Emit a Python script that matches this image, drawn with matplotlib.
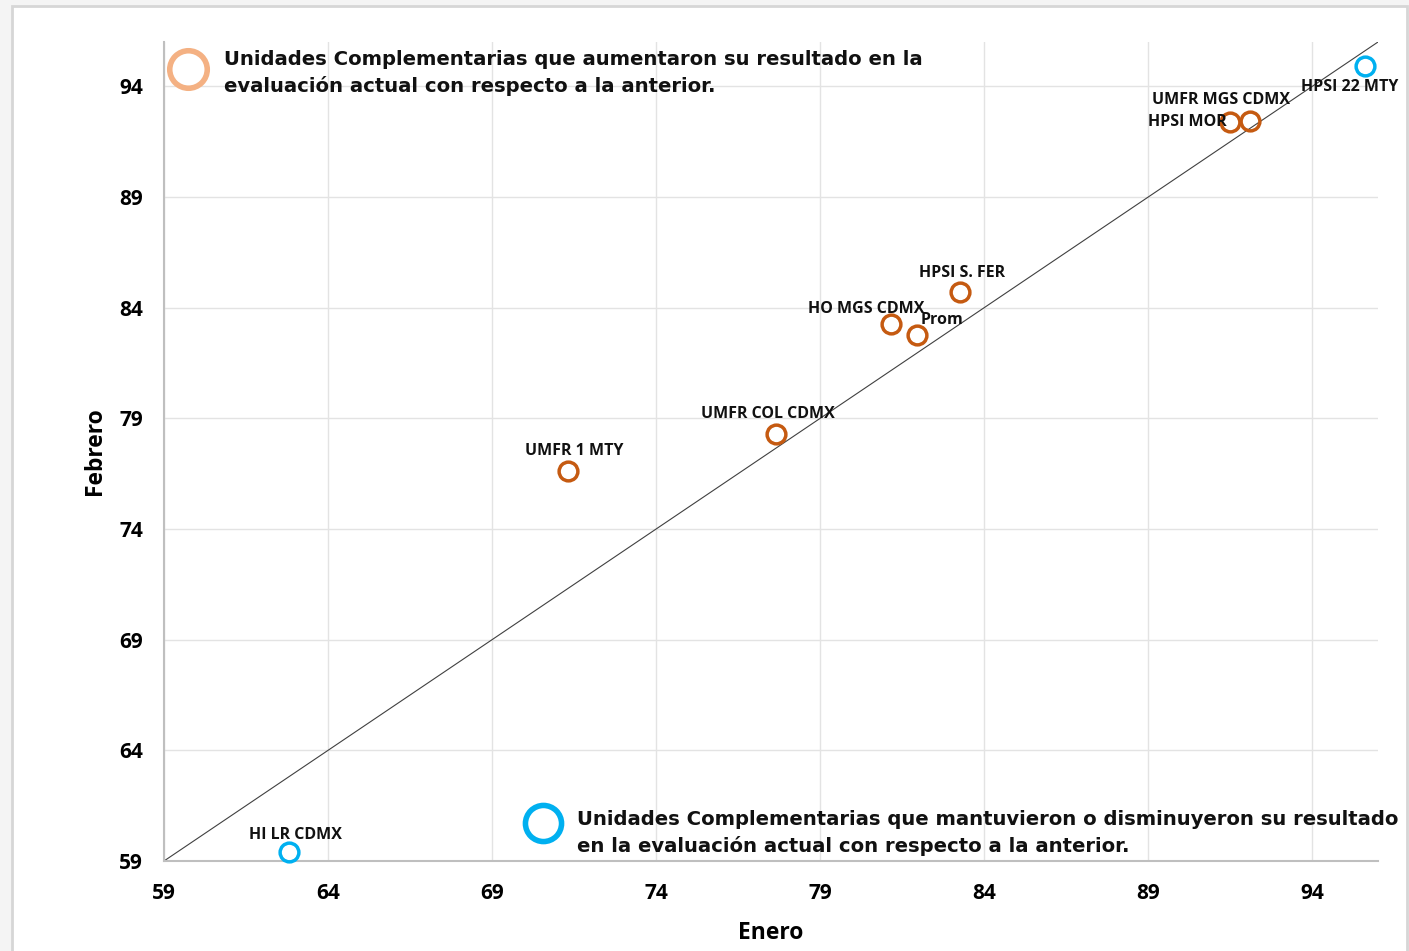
import matplotlib
matplotlib.use("Agg")
import matplotlib.pyplot as plt
from matplotlib.patches import Rectangle

# Data
names = ["HPSI 22 MTY", "UMFR MGS CDMX", "HPSI MOR", "HPSI S. FER", "HO MGS CDMX",
         "Prom", "UMFR COL CDMX", "UMFR 1 MTY", "HI LR CDMX"]
enero = [95.6, 92.1, 91.5, 83.25, 81.15, 81.95, 77.65, 71.3, 62.8]
febrero = [94.9, 92.45, 92.4, 84.7, 83.25, 82.75, 78.3, 76.6, 59.4]
aumento = [False, True, True, True, True, True, True, True, False]
label_offsets = [(-15, -21), (-29, 21), (-4, 0), (2, 19), (-25, 15),
                 (25, 15), (-8, 20), (7, 20), (7, 17)]
label_ha = ["center", "center", "right", "center", "center",
            "center", "center", "center", "center"]
ticks = [59, 64, 69, 74, 79, 84, 89, 94]

ORANGE = "#C55A11"
BLUE = "#00B0F0"
LIGHT_ORANGE = "#F4B183"
LABEL_FONT = "Open Sans"

W, H = 1409, 951
fig = plt.figure(figsize=(W / 100, H / 100), dpi=100)
fig.patch.set_facecolor("#F4F4F4")
fig.add_artist(Rectangle((12 / W, -0.01), (1407 - 12) / W, (H - 6) / H + 0.01,
                         transform=fig.transFigure, facecolor="white",
                         edgecolor="#D6D6D6", linewidth=2, zorder=0))

ax = fig.add_axes([164 / W, 1 - 861 / H, (1378 - 164) / W, (861 - 42) / H])
ax.set_facecolor("white")
ax.set_xlim(59, 96)
ax.set_ylim(59, 96)
ax.set_xticks(ticks)
ax.set_yticks(ticks)
ax.grid(True, color="#E3E3E3", linewidth=1)
ax.set_axisbelow(True)
for s in ["top", "right"]:
    ax.spines[s].set_visible(False)
for s in ["left", "bottom"]:
    ax.spines[s].set_color("#BFBFBF")
    ax.spines[s].set_linewidth(1.5)
ax.tick_params(axis="x", length=0, pad=16)
ax.tick_params(axis="y", length=0, pad=15)
for lab in ax.get_xticklabels() + ax.get_yticklabels():
    lab.set_fontfamily(LABEL_FONT)
    lab.set_fontweight("bold")
    lab.set_fontsize(15)

ax.set_xlabel("Enero", fontfamily=LABEL_FONT, fontweight="bold", fontsize=16.5, labelpad=12)
ax.set_ylabel("Febrero", fontfamily=LABEL_FONT, fontweight="bold", fontsize=16.5, labelpad=9)

# diagonal
ax.plot([59, 96], [59, 96], color="#404040", linewidth=0.8, zorder=2)

for n, x, y, up, off, ha in zip(names, enero, febrero, aumento, label_offsets, label_ha):
    c = ORANGE if up else BLUE
    ax.plot([x], [y], marker="o", markersize=13.5, markerfacecolor="none",
            markeredgecolor=c, markeredgewidth=2.5, clip_on=False, zorder=3)
    ax.annotate(n, (x, y), xytext=off, textcoords="offset pixels",
                ha=ha, va="center", fontfamily=LABEL_FONT, fontweight="bold",
                fontsize=11.5, color="#111111", zorder=4)

# legend-like annotations
ax.plot([0.0198], [0.967], transform=ax.transAxes, marker="o", markersize=27,
        markerfacecolor="none", markeredgecolor=LIGHT_ORANGE, markeredgewidth=4,
        clip_on=False, zorder=3)
ax.text(0.0494, 0.962,
        "Unidades Complementarias que aumentaron su resultado en la\n"
        "evaluación actual con respecto a la anterior.",
        transform=ax.transAxes, ha="left", va="center", fontfamily="DejaVu Sans",
        fontweight="bold", fontsize=14.1, color="#111111", linespacing=1.45)
ax.plot([0.312], [0.0464], transform=ax.transAxes, marker="o", markersize=26,
        markerfacecolor="none", markeredgecolor=BLUE, markeredgewidth=4,
        clip_on=False, zorder=3)
ax.text(0.340, 0.034,
        "Unidades Complementarias que mantuvieron o disminuyeron su resultado\n"
        "en la evaluación actual con respecto a la anterior.",
        transform=ax.transAxes, ha="left", va="center", fontfamily="DejaVu Sans",
        fontweight="bold", fontsize=14.1, color="#111111", linespacing=1.45)

fig.savefig("out.png", dpi=100, facecolor=fig.get_facecolor())
